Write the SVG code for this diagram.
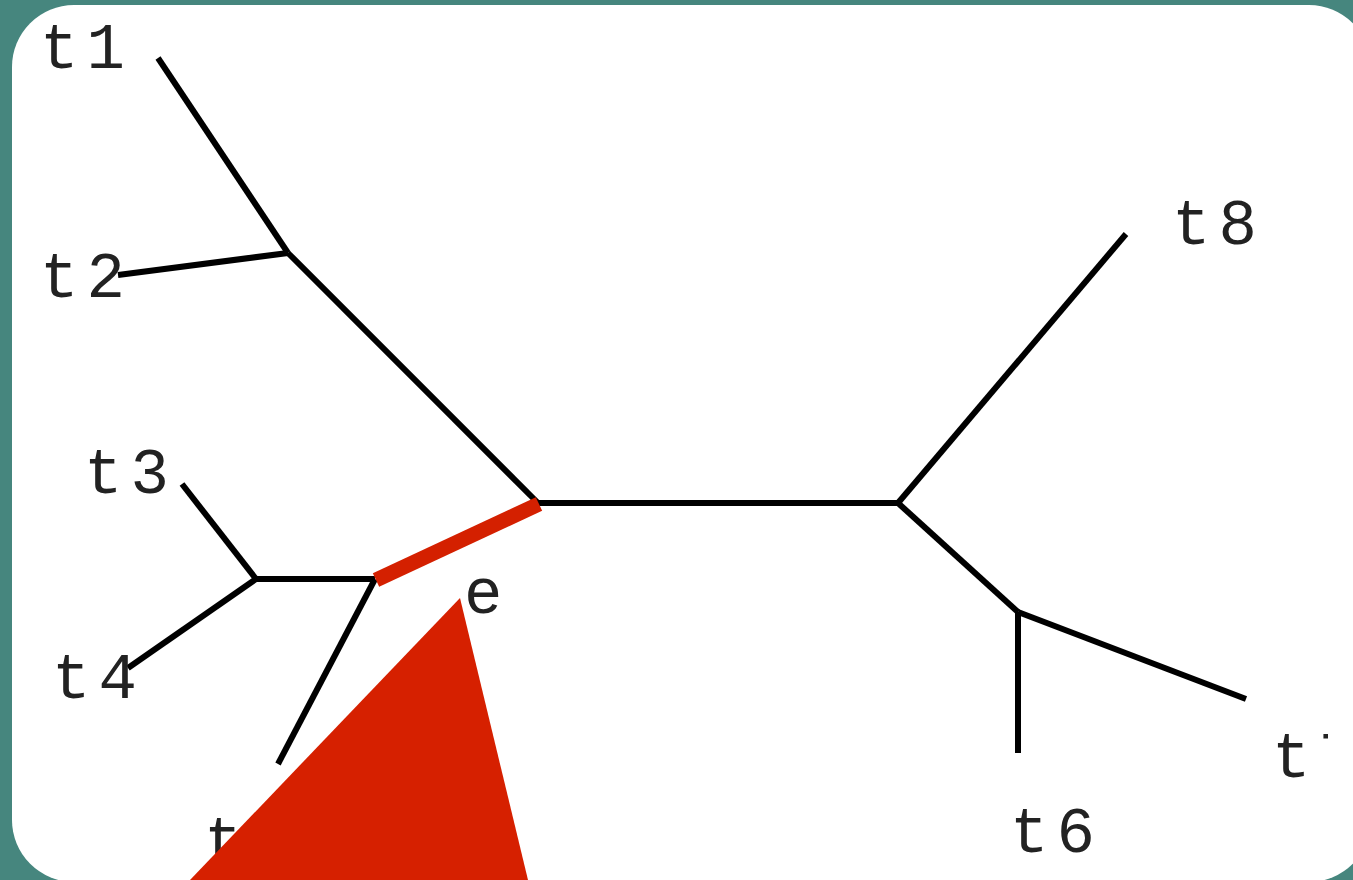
<svg xmlns="http://www.w3.org/2000/svg" width="1353" height="880" viewBox="0 0 1353 880">
  <style>
    .edge { stroke: #000; stroke-width: 6; stroke-linecap: butt; fill: none; }
    .hl { stroke: #d42000; stroke-width: 15; fill: none; }
    .lbl { font-family: "Liberation Mono", "Courier New", monospace; font-size: 64px; fill: #222; letter-spacing: 8px; }
  </style>
  <defs>
    <clipPath id="frameClip"><rect x="0" y="0" width="1328" height="880"/></clipPath>
  </defs>

  <!-- backdrop and card -->
  <rect x="0" y="0" width="1353" height="880" fill="#46867e"/>
  <rect x="12" y="5" width="1359" height="877" rx="62" ry="62" fill="#fff"/>

  <!-- tree branches -->
  <g id="connectors">
    <line class="edge" x1="158" y1="58" x2="288" y2="253"/>
    <line class="edge" x1="118" y1="275" x2="288" y2="253"/>
    <line class="edge" x1="288" y1="253" x2="537" y2="502"/>
    <line class="edge" x1="535" y1="503" x2="898" y2="503"/>
    <line class="edge" x1="898" y1="503" x2="1126" y2="234"/>
    <line class="edge" x1="898" y1="503" x2="1018" y2="612"/>
    <line class="edge" x1="1018" y1="612" x2="1246" y2="699"/>
    <line class="edge" x1="1018" y1="612" x2="1018" y2="753"/>
    <line class="edge" x1="375" y1="579" x2="256" y2="579"/>
    <line class="edge" x1="182" y1="484" x2="256" y2="579"/>
    <line class="edge" x1="128" y1="668" x2="256" y2="579"/>
    <line class="edge" x1="375" y1="579" x2="278" y2="764"/>
    <line class="hl" x1="539" y1="504" x2="376" y2="580"/>
  </g>

  <!-- leaf labels -->
  <g id="t1"><text class="lbl" x="40" y="68">t1</text></g>
  <g id="t2"><text class="lbl" x="40" y="297">t2</text></g>
  <g id="t3"><text class="lbl" x="84" y="493">t3</text></g>
  <g id="t4"><text class="lbl" x="52" y="698">t4</text></g>
  <g id="t5"><text class="lbl" x="204" y="861">t5</text></g>
  <g id="t6"><text class="lbl" x="1010" y="852">t6</text></g>
  <g id="t7" clip-path="url(#frameClip)"><text class="lbl" x="1272" y="777">t7</text></g>
  <g id="t8"><text class="lbl" x="1172" y="244">t8</text></g>
  <g id="e"><text class="lbl" x="464" y="613">e</text></g>

  <!-- pointer wedge -->
  <polygon id="pointer" points="460,598 190,880 528,880" fill="#d62000"/>
</svg>
